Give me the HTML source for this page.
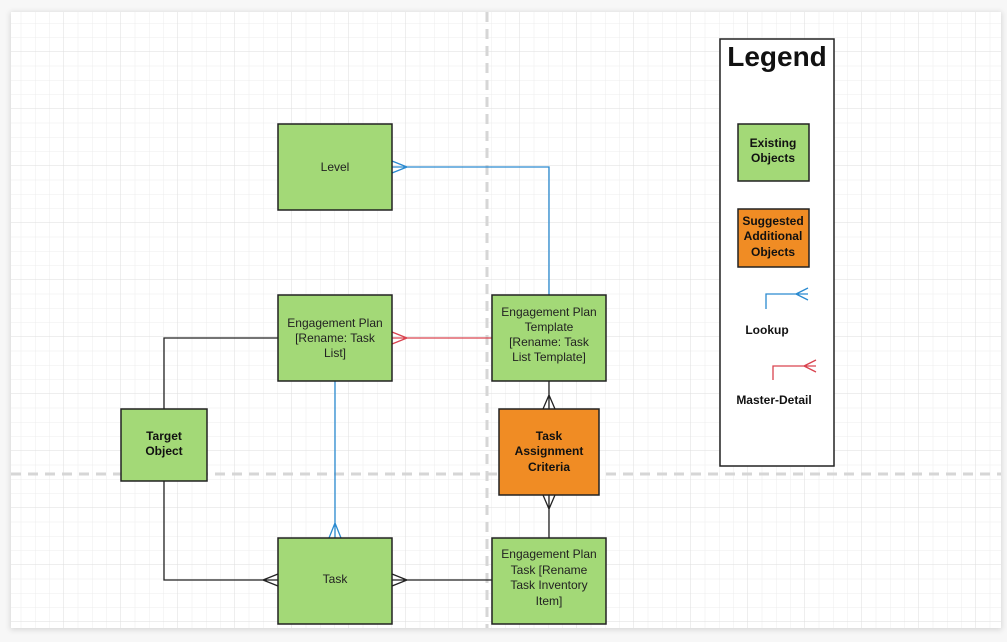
<!DOCTYPE html>
<html><head><style>
html,body{margin:0;padding:0;background:#f4f4f4;width:1007px;height:642px;overflow:hidden}
svg{display:block;font-family:"Liberation Sans",Arial,sans-serif}
</style></head><body>
<svg width="1007" height="642" viewBox="0 0 1007 642" xmlns="http://www.w3.org/2000/svg">
<defs>
<pattern id="minor" x="7" y="-5" width="14.25" height="14.25" patternUnits="userSpaceOnUse"><path d="M14.25 0V14.25M0 14.25H14.25" stroke="#ececec" stroke-width="1" fill="none"/></pattern>
<pattern id="major" x="7" y="-5" width="57" height="57" patternUnits="userSpaceOnUse"><path d="M57 0V57M0 57H57" stroke="#dedede" stroke-width="1" fill="none"/></pattern>
<filter id="sh" x="-5%" y="-5%" width="110%" height="110%"><feGaussianBlur stdDeviation="3"/></filter>
</defs>
<rect x="0" y="0" width="1007" height="642" fill="#f7f7f7"/>
<rect x="10" y="12" width="992" height="618" fill="#000" opacity="0.12" filter="url(#sh)"/>
<rect x="11" y="12" width="990" height="616" fill="#fff"/>
<rect x="11" y="12" width="990" height="616" fill="url(#minor)"/>
<rect x="11" y="12" width="990" height="616" fill="url(#major)"/>
<line x1="487" y1="12" x2="487" y2="628" stroke="#d6d6d6" stroke-width="3" stroke-dasharray="10,7"/>
<line x1="11" y1="474" x2="1001" y2="474" stroke="#d6d6d6" stroke-width="3" stroke-dasharray="10,7"/>

<g fill="none" stroke-width="1.3">
<!-- blue EPT->Level -->
<path d="M549 295V167H392M407 167L392 161M407 167L392 173" stroke="#2a8ad0"/>
<!-- red -->
<path d="M492 338H392M407 338L392 332M407 338L392 344" stroke="#d9434f"/>
<!-- blue EP->Task -->
<path d="M335 381V538M335 523L329 538M335 523L341 538" stroke="#2a8ad0"/>
<g stroke="#222">
<path d="M278 338H164V409"/>
<path d="M164 481V580H278M263 580L278 574M263 580L278 586"/>
<path d="M492 580H392M407 580L392 574M407 580L392 586"/>
<path d="M549 381V409M549 395L543 409M549 395L555 409"/>
<path d="M549 495V538M549 509L543 495M549 509L555 495"/>
</g>
</g>

<g stroke="#222" stroke-width="1.5">
<rect x="278" y="124" width="114" height="86" fill="#a3d977"/>
<rect x="278" y="295" width="114" height="86" fill="#a3d977"/>
<rect x="492" y="295" width="114" height="86" fill="#a3d977"/>
<rect x="121" y="409" width="86" height="72" fill="#a3d977"/>
<rect x="499" y="409" width="100" height="86" fill="#f08c24"/>
<rect x="278" y="538" width="114" height="86" fill="#a3d977"/>
<rect x="492" y="538" width="114" height="86" fill="#a3d977"/>
<rect x="720" y="39" width="114" height="427" fill="#fff"/>
<rect x="738" y="124" width="71" height="57" fill="#a3d977"/>
<rect x="738" y="209" width="71" height="58" fill="#f08c24"/>
</g>

<g font-size="12" fill="#222" text-anchor="middle">
<text x="335" y="171">Level</text>
<text x="335" y="327">Engagement Plan</text>
<text x="335" y="342">[Rename: Task</text>
<text x="335" y="357">List]</text>
<text x="549" y="316">Engagement Plan</text>
<text x="549" y="331">Template</text>
<text x="549" y="346">[Rename: Task</text>
<text x="549" y="361">List Template]</text>
<text x="335" y="583">Task</text>
<text x="549" y="558">Engagement Plan</text>
<text x="549" y="574">Task [Rename</text>
<text x="549" y="589">Task Inventory</text>
<text x="549" y="605">Item]</text>
</g>
<g font-size="12" font-weight="bold" fill="#111" text-anchor="middle">
<text x="164" y="440">Target</text>
<text x="164" y="455">Object</text>
<text x="549" y="440">Task</text>
<text x="549" y="455">Assignment</text>
<text x="549" y="471">Criteria</text>
<text x="773" y="147">Existing</text>
<text x="773" y="162">Objects</text>
<text x="773" y="225">Suggested</text>
<text x="773" y="240">Additional</text>
<text x="773" y="256">Objects</text>
<text x="767" y="334">Lookup</text>
<text x="774" y="404">Master-Detail</text>
<text x="777" y="66" font-size="28">Legend</text>
</g>
<g fill="none" stroke-width="1.3">
<path d="M766 309V294H808M796 294L808 288M796 294L808 300" stroke="#2a8ad0"/>
<path d="M773 380V366H816M804 366L816 360M804 366L816 372" stroke="#d9434f"/>
</g>
</svg>
</body></html>
